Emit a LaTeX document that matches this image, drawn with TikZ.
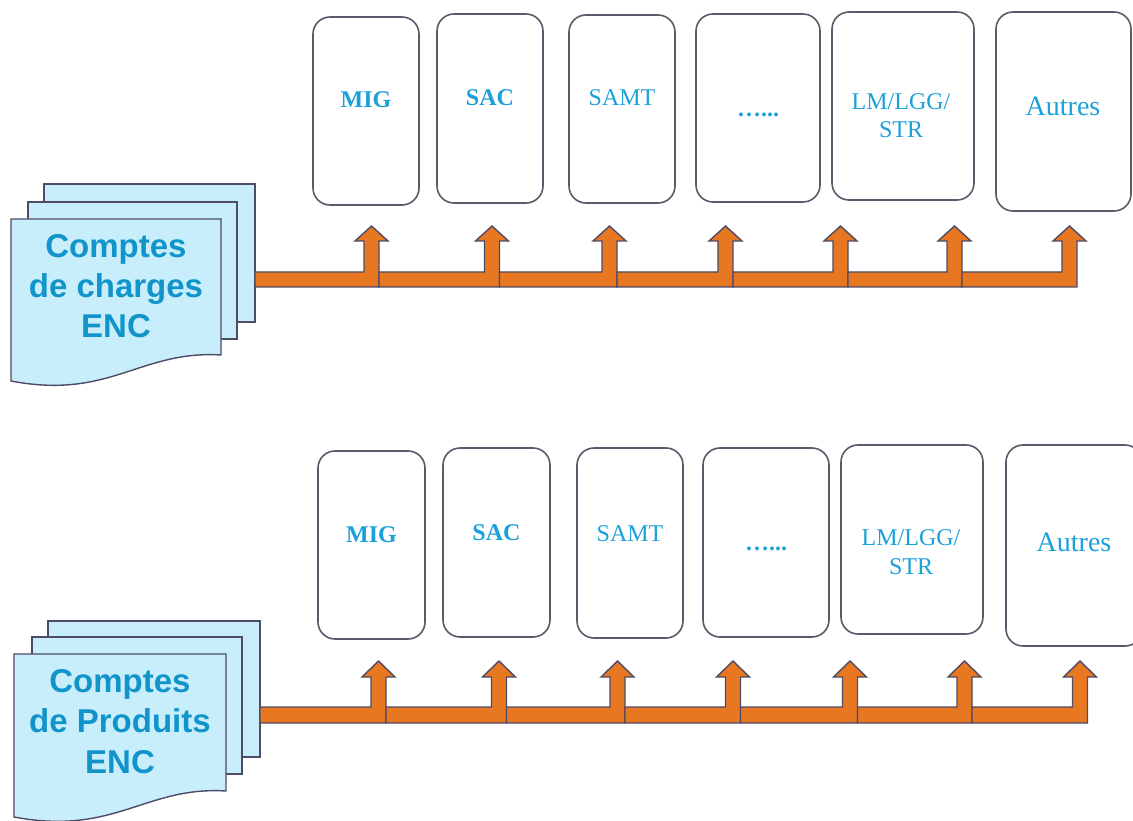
\documentclass[tikz,border=0pt]{standalone}
\usepackage{fontspec}
\setmainfont{Liberation Serif}
\newfontfamily\docfont{Liberation Sans}
\definecolor{orangeA}{HTML}{E87722}
\definecolor{arrline}{HTML}{4F4A66}
\definecolor{boxline}{HTML}{5C5A6A}
\definecolor{docfill}{HTML}{C8EEFC}
\definecolor{docline}{HTML}{4F4A66}
\definecolor{doctext}{HTML}{1094C9}
\definecolor{boxtext}{HTML}{1CA0DA}
\tikzset{
  arr/.style={fill=orangeA, draw=arrline, line width=1.4pt, line join=miter},
  page/.style={fill=docfill, draw=docline, line width=1.4pt},
  catbox/.style={draw=boxline, line width=1.6pt, rounded corners=17pt, fill=white},
  doclabel/.style={font=\docfont\bfseries\fontsize{33}{38}\selectfont, text=doctext, anchor=base, inner sep=0pt},
  catlabel/.style={font=\fontsize{24}{28}\selectfont, text=boxtext, anchor=base, inner sep=0pt},
  catbold/.style={catlabel, font=\bfseries\fontsize{24}{28}\selectfont},
  catbig/.style={catlabel, font=\fontsize{28}{32}\selectfont},
}
% start x, shaft centre, tip y, head base y, bar top y, bar bottom y
\newcommand\bentarrow[6]{%
  \draw[arr] (#1,#6) -- ({#2+7.5},#6) -- ({#2+7.5},#4) -- ({#2+16.5},#4) -- (#2,#3)
    -- ({#2-16.5},#4) -- ({#2-7.5},#4) -- ({#2-7.5},#5) -- (#1,#5) -- cycle;}
\begin{document}
\begin{tikzpicture}[x=1pt,y=-1pt]
\useasboundingbox (0,0) rectangle (1133,821);
\clip (0,0) rectangle (1133,821);

% ---------------- top row boxes ----------------
\draw[catbox] (313,17) rectangle (419,205);
\draw[catbox] (437,14) rectangle (543,203);
\draw[catbox] (569,15) rectangle (675,203);
\draw[catbox] (696,14) rectangle (820,202);
\draw[catbox] (832,12) rectangle (974,200);
\draw[catbox] (996,12) rectangle (1131,211);
\node[catbold] (tmig) at (366,108) {MIG};
\node[catbold] (tsac) at (490,106) {SAC};
\node[catlabel] (tsamt) at (622,106) {SAMT};
\node[catbold] (tdots) at (758,117) {…...};
\node[catlabel] (tlm1) at (901,110) {LM/LGG/};
\node[catlabel] (tlm2) at (901,138) {STR};
\node[catbig] (taut) at (1063,116) {Autres};

% ---------------- bottom row boxes ----------------
\draw[catbox] (318,451) rectangle (425,639);
\draw[catbox] (443,448) rectangle (550,637);
\draw[catbox] (577,448) rectangle (683,638);
\draw[catbox] (703,448) rectangle (829,637);
\draw[catbox] (841,445) rectangle (983,634);
\draw[catbox] (1006,445) rectangle (1142,646);
\node[catbold] (bmig) at (371.5,542) {MIG};
\node[catbold] (bsac) at (496.5,540) {SAC};
\node[catlabel] (bsamt) at (630,541) {SAMT};
\node[catbold] (bdots) at (766,550) {…...};
\node[catlabel] (blm1) at (911,545) {LM/LGG/};
\node[catlabel] (blm2) at (911,574) {STR};
\node[catbig] (baut) at (1074,551) {Autres};

% ---------------- top document stack ----------------
\draw[page] (44,184) rectangle (255,322);
\draw[page] (28,202) rectangle (237,339);
\draw[page] (11,219) -- (221,219) -- (221,355)
   .. controls (140,350) and (110,400) .. (11,381) -- cycle;
\node[doclabel] (tc1) at (116,258) {Comptes};
\node[doclabel] (tc2) at (116,298) {de charges};
\node[doclabel] (tc3) at (116,337) {ENC};

% ---------------- bottom document stack ----------------
\draw[page] (48,621) rectangle (260,757);
\draw[page] (32,637) rectangle (242,774);
\draw[page] (14,654) -- (226,654) -- (226,791)
   .. controls (145,786) and (115,836) .. (14,817) -- cycle;
\node[doclabel] (bc1) at (120,692) {Comptes};
\node[doclabel] (bc2) at (120,732) {de Produits};
\node[doclabel] (bc3) at (120,773) {ENC};

% ---------------- top arrows ----------------
\bentarrow{255}{371.5}{226}{241}{272}{287}
\bentarrow{379}{492}{226}{241}{272}{287}
\bentarrow{499.5}{609.5}{226}{241}{272}{287}
\bentarrow{617}{725.5}{226}{241}{272}{287}
\bentarrow{733}{840.5}{226}{241}{272}{287}
\bentarrow{848}{954.5}{226}{241}{272}{287}
\bentarrow{962}{1069.5}{226}{241}{272}{287}

% ---------------- bottom arrows ----------------
\bentarrow{260}{378.5}{661}{677}{707}{723}
\bentarrow{386}{499}{661}{677}{707}{723}
\bentarrow{506.5}{617.5}{661}{677}{707}{723}
\bentarrow{625}{733}{661}{677}{707}{723}
\bentarrow{740.5}{850}{661}{677}{707}{723}
\bentarrow{857.5}{964.5}{661}{677}{707}{723}
\bentarrow{972}{1080}{661}{677}{707}{723}
\end{tikzpicture}
\end{document}
